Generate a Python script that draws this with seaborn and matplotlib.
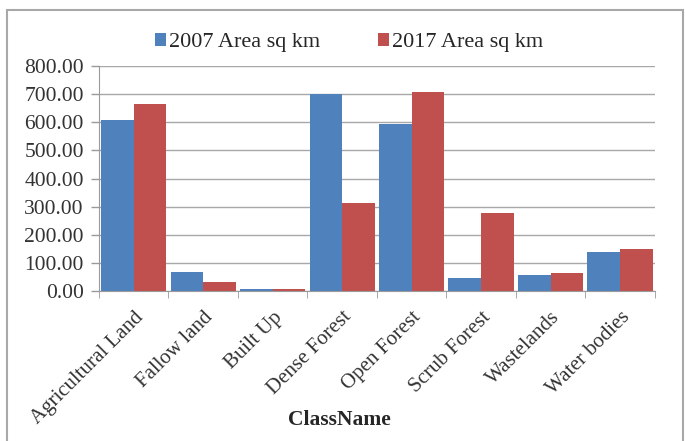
import pandas as pd
import numpy as np
import matplotlib
matplotlib.use("Agg")
import matplotlib.pyplot as plt
import seaborn as sns
from matplotlib.patches import Rectangle
from matplotlib.ticker import FormatStrFormatter

classes = ["Agricultural Land", "Fallow land", "Built Up", "Dense Forest",
           "Open Forest", "Scrub Forest", "Wastelands", "Water bodies"]
area_2007 = [610, 68, 9, 700, 593, 45, 56, 140]
area_2017 = [666, 31, 8, 315, 709, 276, 63, 148]
series = ["2007 Area sq km", "2017 Area sq km"]
colors = ["#4F81BD", "#C0504D"]

df = pd.DataFrame({
    "ClassName": classes * 2,
    "Area": area_2007 + area_2017,
    "Series": [series[0]] * len(classes) + [series[1]] * len(classes),
})

sns.set_style("white")
plt.rcParams["font.family"] = ["Liberation Serif", "DejaVu Serif"]

fig = plt.figure(figsize=(6.85, 4.41), dpi=100)
ax = fig.add_axes([0.1445, 0.340, 0.8115, 0.510])

sns.barplot(data=df, x="ClassName", y="Area", hue="Series", palette=colors,
            width=0.94, saturation=1, linewidth=0, ax=ax, legend=True)

# chart frame (like the Excel chart area border)
fig.patches.append(Rectangle((0.010, -0.01), 0.987, 0.987, transform=fig.transFigure,
                             fill=False, edgecolor="#a8a8a8", linewidth=1.5))

ax.set_ylim(0, 800)
ax.set_xlim(-0.5, len(classes) - 0.5)
ax.set_yticks(np.arange(0, 801, 100))
ax.yaxis.set_major_formatter(FormatStrFormatter("%.2f"))
ax.yaxis.grid(True, color="#a8a8a8", linewidth=1.0)
ax.set_axisbelow(True)
for s in ["top", "right"]:
    ax.spines[s].set_visible(False)
ax.spines["left"].set_color("#9a9a9a")
ax.spines["bottom"].set_color("#9a9a9a")

ax.tick_params(axis="y", labelsize=15.5, length=6, width=1, color="#9a9a9a",
               pad=5, labelcolor="#333333", left=True)
ax.set_xticks(np.arange(len(classes)))
ax.set_xticklabels(classes, rotation=45, ha="right", rotation_mode="anchor",
                   fontsize=15, color="#333333")
ax.tick_params(axis="x", length=0, pad=12)
# category separator ticks
ax.set_xticks(np.arange(-0.5, len(classes)), minor=True)
ax.tick_params(axis="x", which="minor", length=5, color="#9a9a9a", bottom=True)

ax.set_ylabel("")
ax.set_xlabel("ClassName", fontsize=15.5, fontweight="bold")
ax.xaxis.set_label_coords(0.433, -0.53)

ax.legend(loc="center", bbox_to_anchor=(0.45, 1.105), ncol=2, frameon=False,
          fontsize=16, handlelength=0.5, handleheight=0.5, handletextpad=0.15,
          columnspacing=2.6)

fig.savefig("out.png", dpi=100)
